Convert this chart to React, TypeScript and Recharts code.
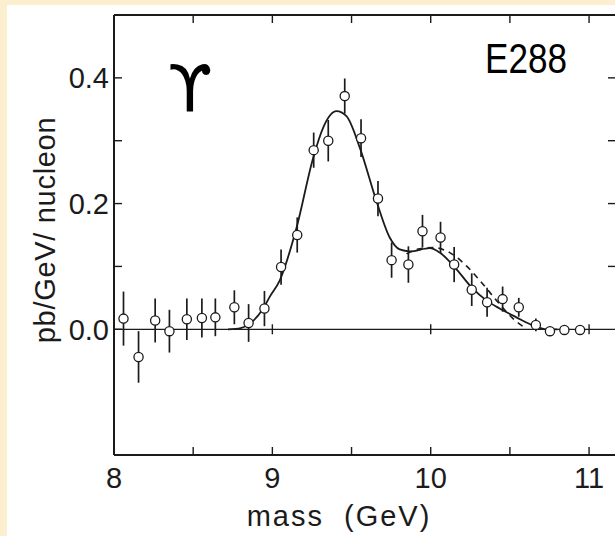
import { ComposedChart, ErrorBar, Line, ReferenceLine, Scatter, XAxis, YAxis } from "recharts";

// measured points (GeV, pb/GeV/nucleon, 1 sigma)
const massBins = [
  8.06, 8.155, 8.26, 8.35, 8.46, 8.555, 8.64, 8.76, 8.85, 8.95, 9.055, 9.157, 9.261, 9.353, 9.457,
  9.56, 9.667, 9.753, 9.859, 9.948, 10.062, 10.148, 10.259, 10.356, 10.454, 10.556, 10.664, 10.753,
  10.844, 10.943
];
const yieldValues = [
  0.017, -0.044, 0.014, -0.003, 0.016, 0.018, 0.019, 0.035, 0.01, 0.033, 0.099, 0.15, 0.285, 0.3,
  0.371, 0.304, 0.208, 0.11, 0.103, 0.156, 0.146, 0.103, 0.063, 0.043, 0.048, 0.035, 0.007, -0.003,
  -0.001, -0.001
];
const yieldErrors = [
  0.043, 0.041, 0.035, 0.034, 0.033, 0.031, 0.03, 0.027, 0.03, 0.028, 0.028, 0.028, 0.028, 0.033,
  0.028, 0.03, 0.028, 0.028, 0.029, 0.026, 0.025, 0.028, 0.026, 0.023, 0.02, 0.015, 0.01, 0, 0, 0
];

// fitted curves
const solidMass = [
  8.72, 8.8, 8.858, 8.942, 8.984, 9.047, 9.153, 9.258, 9.321, 9.405, 9.468, 9.552, 9.657, 9.741,
  9.804, 9.868, 9.994, 10.057, 10.151, 10.257, 10.351, 10.435, 10.541, 10.646, 10.73, 10.8
];
const solidValues = [
  0, 0.002, 0.009, 0.033, 0.052, 0.078, 0.162, 0.273, 0.321, 0.347, 0.339, 0.289, 0.204, 0.146,
  0.127, 0.124, 0.129, 0.122, 0.099, 0.067, 0.046, 0.033, 0.019, 0.006, 0, 0
];
const dashedMass = [9.847, 9.931, 10.015, 10.12, 10.225, 10.309, 10.415, 10.52, 10.604];
const dashedValues = [0.12, 0.128, 0.13, 0.122, 0.101, 0.078, 0.046, 0.017, 0.001];

const xTicks = [8, 8.5, 9, 9.5, 10, 10.5, 11];
const xLabelled = [8, 9, 10, 11];
const yTicksLeft = [0, 0.1, 0.2, 0.3, 0.4];
const yTicksRight = [0.1, 0.2, 0.3, 0.4];
const yLabelled = [0, 0.2, 0.4];
const zeroLineTicks = [9, 10, 11];

const points = massBins.map((x, i) => ({ x, y: yieldValues[i], err: yieldErrors[i] }));
const solidCurve = solidMass.map((x, i) => ({ x, y: solidValues[i] }));
const dashedCurve = dashedMass.map((x, i) => ({ x, y: dashedValues[i] }));
const zeroMarks = zeroLineTicks.map((x) => ({ x, y: 0 }));

const INK = "#1b1b1b";
const FONT = "'Liberation Sans', Arial, sans-serif";

const near = (list: number[], v: number) => list.some((t) => Math.abs(t - v) < 1e-6);

const OpenCircle = (p: any) => (
  <circle cx={p.cx} cy={p.cy} r={4.6} fill="#fff" stroke={INK} strokeWidth={1.3} />
);
const CrossTick = (p: any) => (
  <line x1={p.cx} x2={p.cx} y1={p.cy - 5} y2={p.cy + 5} stroke={INK} strokeWidth={1.4} />
);

export default function App() {
  const tickFont = { fill: INK, fontSize: 29, fontFamily: FONT };
  return (
    <div
      style={{
        position: "fixed",
        left: 0,
        top: 0,
        width: 615,
        height: 536,
        overflow: "hidden",
        background: "#fcefcf"
      }}
    >
      <div style={{ position: "absolute", left: 7, top: 5, right: 0, bottom: 0, background: "#fff" }} />
      <div style={{ position: "absolute", left: 0, top: 0 }}>
        <ComposedChart width={640} height={536} margin={{ top: 5, right: 14, bottom: 41, left: 44 }}>
          <XAxis
            dataKey="x"
            type="number"
            domain={[8, 11.17]}
            allowDataOverflow
            ticks={xTicks}
            interval={0}
            tickSize={-8}
            tickMargin={20}
            height={40}
            tick={tickFont}
            tickFormatter={(v: number) => (near(xLabelled, v) ? String(v) : "")}
            axisLine={{ stroke: INK, strokeWidth: 2 }}
            tickLine={{ stroke: INK, strokeWidth: 1.4 }}
          />
          <XAxis
            xAxisId="top"
            orientation="top"
            dataKey="x"
            type="number"
            domain={[8, 11.17]}
            allowDataOverflow
            ticks={xTicks}
            interval={0}
            tickSize={-8}
            height={10}
            tickFormatter={() => ""}
            axisLine={{ stroke: INK, strokeWidth: 2 }}
            tickLine={{ stroke: INK, strokeWidth: 1.4 }}
          />
          <YAxis
            type="number"
            domain={[-0.2, 0.5]}
            allowDataOverflow
            ticks={yTicksLeft}
            interval={0}
            width={70}
            tickSize={-8}
            tickMargin={13}
            tick={tickFont}
            tickFormatter={(v: number) => (near(yLabelled, v) ? v.toFixed(1) : "")}
            axisLine={{ stroke: INK, strokeWidth: 2 }}
            tickLine={{ stroke: INK, strokeWidth: 1.4 }}
          />
          <YAxis
            yAxisId="right"
            orientation="right"
            type="number"
            domain={[-0.2, 0.5]}
            allowDataOverflow
            ticks={yTicksRight}
            interval={0}
            width={10}
            tickSize={-8}
            tickFormatter={() => ""}
            axisLine={{ stroke: INK, strokeWidth: 2 }}
            tickLine={{ stroke: INK, strokeWidth: 1.4 }}
          />
          <ReferenceLine y={0} stroke={INK} strokeWidth={1.3} />
          <Scatter data={zeroMarks} dataKey="y" shape={CrossTick} isAnimationActive={false} />
          <Line
            data={solidCurve}
            dataKey="y"
            type="monotone"
            stroke={INK}
            strokeWidth={1.8}
            dot={false}
            activeDot={false}
            isAnimationActive={false}
          />
          <Line
            data={dashedCurve}
            dataKey="y"
            type="monotone"
            stroke={INK}
            strokeWidth={1.6}
            strokeDasharray="6 5"
            dot={false}
            activeDot={false}
            isAnimationActive={false}
          />
          <Scatter data={points} dataKey="y" shape={OpenCircle} isAnimationActive={false}>
            <ErrorBar dataKey="err" direction="y" width={0} stroke={INK} strokeWidth={1.7} />
          </Scatter>
          <text
            transform="translate(45,230) rotate(-90)"
            textAnchor="middle"
            dominantBaseline="central"
            fontFamily={FONT}
            fontSize={29}
            letterSpacing={0.7}
            fill={INK}
          >
            pb/GeV/ nucleon
          </text>
          <text
            x={339}
            y={526}
            textAnchor="middle"
            fontFamily={FONT}
            fontSize={29}
            letterSpacing={2}
            fill={INK}
          >
            {"mass\u00a0\u00a0(GeV)"}
          </text>
          <text x={190} y={111} textAnchor="middle" fontFamily="'DejaVu Sans', sans-serif" fontSize={64} fill="#000">
            ϒ
          </text>
          <text
            x={485}
            y={73}
            fontFamily={FONT}
            fontSize={42}
            textLength={82}
            lengthAdjust="spacingAndGlyphs"
            fill="#000"
          >
            E288
          </text>
        </ComposedChart>
      </div>
    </div>
  );
}
